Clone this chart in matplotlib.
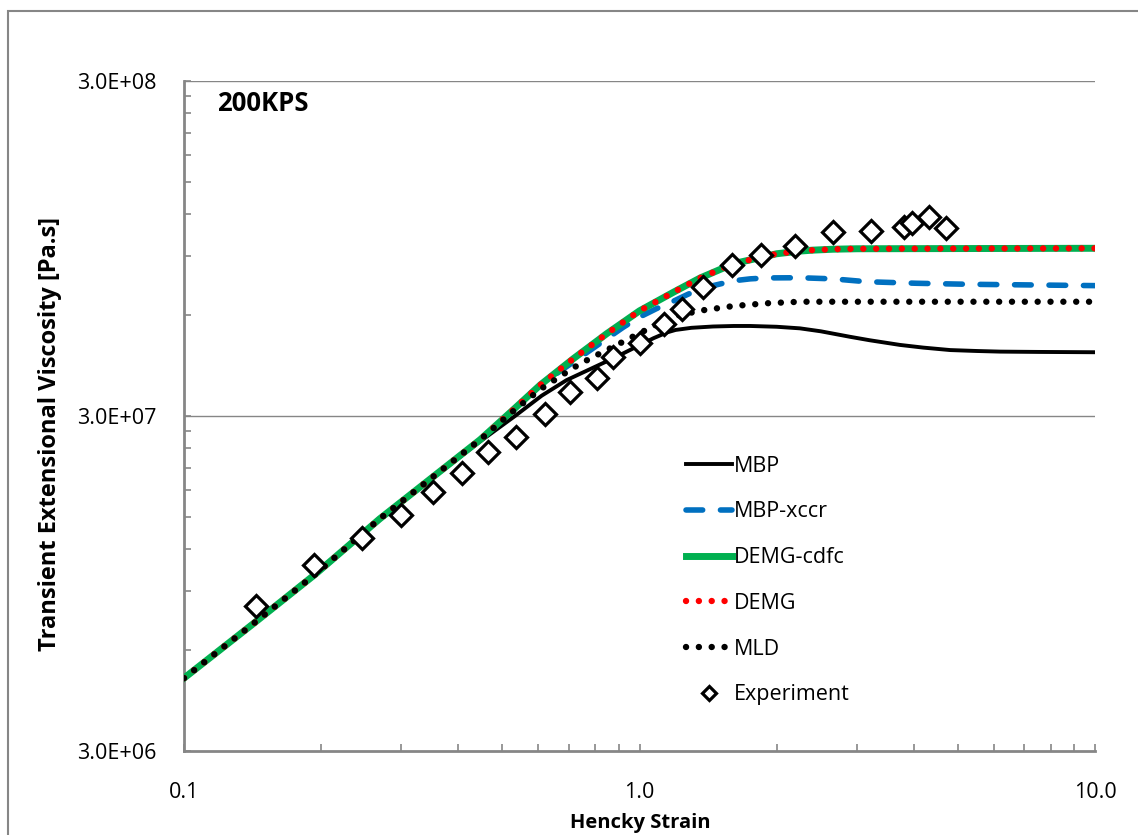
import numpy as np
import matplotlib.pyplot as plt
from matplotlib.ticker import FixedLocator, FuncFormatter, NullFormatter
from matplotlib.patches import Rectangle

plt.rcParams['font.family'] = ['Open Sans', 'DejaVu Sans']

# Transient extensional viscosity [Pa.s] vs Hencky strain, 200KPS
mbp_strain = [0.1, 0.142, 0.194, 0.269, 0.447, 0.533, 0.61, 0.692, 0.891, 1.073, 1.15,
              1.2, 1.3, 1.45, 1.61, 1.75, 2.0, 2.25, 2.5, 2.9, 3.2, 3.73, 4.2, 4.81,
              5.5, 6.19, 7.5, 10.0]
mbp_visc = [4.95e6, 7.2e6, 1.01e7, 1.48e7, 2.52e7, 3.0e7, 3.45e7, 3.84e7, 4.51e7, 5.12e7, 5.33e7,
            5.42e7, 5.50e7, 5.55e7, 5.57e7, 5.57e7, 5.54e7, 5.48e7, 5.37e7, 5.17e7, 5.05e7, 4.89e7,
            4.80e7, 4.72e7, 4.69e7, 4.67e7, 4.66e7, 4.65e7]

xccr_strain = [0.1, 0.142, 0.194, 0.269, 0.447, 0.528, 0.605, 0.716, 0.847, 0.921, 1.0, 1.091,
               1.186, 1.27, 1.36, 1.61, 1.75, 1.9, 2.25, 2.66, 3.15, 4.06, 5.23, 10.0]
xccr_visc = [4.95e6, 7.2e6, 1.01e7, 1.48e7, 2.55e7, 3.13e7, 3.71e7, 4.35e7, 5.10e7, 5.52e7, 5.92e7, 6.28e7,
             6.6e7, 6.9e7, 7.2e7, 7.6e7, 7.7e7, 7.75e7, 7.76e7, 7.7e7, 7.55e7, 7.47e7, 7.42e7, 7.35e7]

demg_strain = [0.1, 0.142, 0.194, 0.269, 0.447, 0.528, 0.605, 0.716, 0.847, 1.0, 1.186,
               1.36, 1.61, 1.9, 2.0, 2.25, 2.4, 2.66, 3.0, 10.0]
demg_visc = [4.95e6, 7.2e6, 1.01e7, 1.48e7, 2.55e7, 3.13e7, 3.71e7, 4.45e7, 5.28e7, 6.18e7, 7.02e7,
             7.75e7, 8.55e7, 9.0e7, 9.15e7, 9.32e7, 9.38e7, 9.44e7, 9.47e7, 9.5e7]
# DEMG-cdfc falls on top of DEMG over the whole range
cdfc_strain = demg_strain
cdfc_visc = demg_visc

mld_strain = [0.1, 0.142, 0.194, 0.269, 0.447, 0.528, 0.605, 0.716, 0.778, 0.847, 0.921, 1.0,
              1.186, 1.36, 1.61, 1.9, 2.25, 10.0]
mld_visc = [4.95e6, 7.2e6, 1.01e7, 1.48e7, 2.55e7, 3.1e7, 3.6e7, 4.18e7, 4.45e7, 4.72e7, 5.0e7, 5.3e7,
            5.94e7, 6.19e7, 6.39e7, 6.51e7, 6.58e7, 6.58e7]

exp_strain = [0.144, 0.193, 0.246, 0.299, 0.352, 0.408, 0.465, 0.536, 0.620, 0.704, 0.807, 0.876,
              1.0, 1.13, 1.24, 1.38, 1.60, 1.85, 2.19, 2.66, 3.23, 3.81, 3.96, 4.31, 4.72]
exp_visc = [8.13e6, 1.08e7, 1.30e7, 1.52e7, 1.78e7, 2.03e7, 2.34e7, 2.60e7, 3.04e7, 3.54e7, 3.89e7, 4.51e7,
            4.96e7, 5.65e7, 6.24e7, 7.27e7, 8.47e7, 9.08e7, 9.65e7, 1.065e8, 1.07e8, 1.10e8, 1.13e8, 1.18e8, 1.09e8]

x_major = [0.1, 1.0, 10.0]
y_major = [3e6, 3e7, 3e8]

gray = '#868686'

fig = plt.figure(figsize=(11.38, 8.35), dpi=100)
ax = fig.add_axes([184 / 1138, 1 - 751 / 835, 911 / 1138, 670 / 835])

ax.set_xscale('log')
ax.set_yscale('log')
ax.set_xlim(0.1, 10)
ax.set_ylim(3e6, 3e8)

for yv in y_major[1:]:
    ax.axhline(yv, color=gray, lw=1.0, zorder=1)

ax.plot(mbp_strain, mbp_visc, color='black', lw=2.8, label='MBP', zorder=3)
ax.plot(xccr_strain, xccr_visc, color='#0070C0', lw=4.0, ls=(0, (3.0, 3.2)),
        dash_capstyle='round', label='MBP-xccr', zorder=3)
ax.plot(cdfc_strain, cdfc_visc, color='#00B050', lw=5.0, label='DEMG-cdfc', zorder=3)
ax.plot(demg_strain, demg_visc, color='#FF0000', lw=4.6, ls=(0, (0.01, 2.0)),
        dash_capstyle='round', label='DEMG', zorder=4)
ax.plot(mld_strain, mld_visc, color='black', lw=4.6, ls=(0, (0.01, 2.0)),
        dash_capstyle='round', label='MLD', zorder=4)
ax.plot(exp_strain, exp_visc, ls='none', marker='D', ms=10.8, mfc='white', mec='black',
        mew=2.3, label='Experiment', zorder=5)

# axes frame: only left and bottom spines, top edge comes from the gridline
for side in ['top', 'right']:
    ax.spines[side].set_visible(False)
for side in ['left', 'bottom']:
    ax.spines[side].set_color(gray)
    ax.spines[side].set_linewidth(2.0)

ax.xaxis.set_major_locator(FixedLocator(x_major))
ax.xaxis.set_major_formatter(FuncFormatter(lambda v, p: f'{v:.1f}'))
ax.xaxis.set_minor_locator(FixedLocator(
    [d * k for d in (0.1, 1.0) for k in range(2, 10)]))
ax.xaxis.set_minor_formatter(NullFormatter())

ax.yaxis.set_major_locator(FixedLocator(y_major))
ax.yaxis.set_major_formatter(FuncFormatter(lambda v, p: f'{v:.1E}'))
ax.yaxis.set_minor_locator(FixedLocator(
    [d * k for d in (3e6, 3e7) for k in range(2, 10)]))
ax.yaxis.set_minor_formatter(NullFormatter())

ax.tick_params(which='both', direction='in', color=gray, width=1.2, length=5)
ax.tick_params(axis='x', which='major', pad=22, labelsize=15.5)
ax.tick_params(axis='y', which='major', pad=20, labelsize=15.5)

ax.text(0.036, 0.967, '200KPS', transform=ax.transAxes, fontsize=18.5,
        fontweight='bold', ha='left', va='center')

fig.text(640 / 1138, 1 - 823 / 835, 'Hencky Strain', fontsize=14.5,
         fontweight='bold', ha='center', va='center')
fig.text(50 / 1138, 1 - 434 / 835, 'Transient Extensional Viscosity [Pa.s]',
         fontsize=17, fontweight='bold', rotation=90, ha='center', va='center')

ax.legend(loc='upper left', bbox_to_anchor=(0.5505, 0.441), frameon=False,
          fontsize=15.5, handlelength=2.15, handletextpad=0.1, labelspacing=1.15,
          borderpad=0, borderaxespad=0, markerscale=0.7, numpoints=1)

# outer chart border
fig.patches.append(Rectangle((8 / 1138, -0.05), 1.2, 1 - 11 / 835 + 0.05,
                             transform=fig.transFigure, fill=False,
                             edgecolor=gray, lw=1.5))

fig.savefig('out.png', dpi=100)
